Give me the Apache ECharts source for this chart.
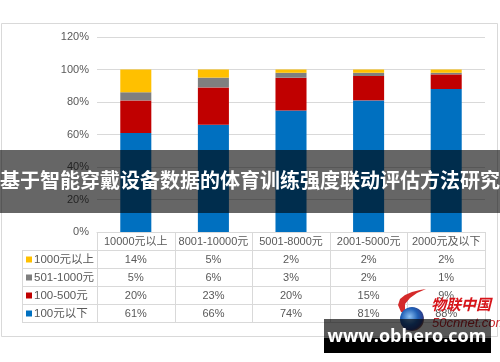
<!DOCTYPE html>
<html><head><meta charset="utf-8">
<script src="https://cdn.jsdelivr.net/npm/echarts@6/dist/echarts.min.js"></script>
<style>html,body{margin:0;padding:0;background:#fff}#c{width:500px;height:362px}</style>
</head><body><div id="c"></div>
<script>
const categories = ['10000元以上','8001-10000元','5001-8000元','2001-5000元','2000元及以下'];
const seriesNames = ['100元以下','100-500元','501-1000元','1000元以上'];
const below100 = [61,66,74,81,88];
const r100to500 = [20,23,20,15,9];
const r501to1000 = [5,6,3,2,1];
const above1000 = [14,5,2,2,2];
const seriesColors = ['#0070C0','#C00000','#7F7F7F','#FFC000'];
const titleText = '基于智能穿戴设备数据的体育训练强度联动评估方法研究';
const watermarkText = 'www.obhero.com';
const logoCn = '物联中国';
const logoEn = '50cnnet.com';

const FONT = '"Liberation Sans","Noto Sans CJK SC",sans-serif';
const TXT = '#595959';
const LINE = '#d9d9d9';
const rows = [below100, r100to500, r501to1000, above1000];
const totals = categories.map((c, i) => rows.reduce((s, r) => s + r[i], 0));

const chart = echarts.init(document.getElementById('c'), null, {renderer: 'canvas'});
chart.setOption({
  animation: false,
  backgroundColor: '#fff',
  grid: {left: 97, right: 15, top: 37, bottom: 130},
  xAxis: {type: 'category', data: categories,
    axisLabel: {show: false}, axisTick: {show: false},
    axisLine: {lineStyle: {color: LINE}}},
  yAxis: {type: 'value', min: 0, max: 120, interval: 20,
    axisLabel: {formatter: '{value}%', color: TXT, fontSize: 11, fontFamily: FONT, margin: 8},
    splitLine: {lineStyle: {color: LINE}}, axisLine: {show: false}, axisTick: {show: false}},
  series: rows.map((r, k) => ({
    name: seriesNames[k], type: 'bar', stack: 'total', barWidth: '40%',
    itemStyle: {color: seriesColors[k]},
    data: r.map((v, i) => v / totals[i] * 100)
  }))
});

const y0 = chart.convertToPixel({yAxisIndex: 0}, 0);
const cx = categories.map((c, i) => chart.convertToPixel({xAxisIndex: 0}, i));
const band = cx[1] - cx[0];
const xl = cx[0] - band / 2, xr = cx[cx.length - 1] + band / 2;
const RH = 18, legL = 22;
const g = [];
g.push({type: 'rect', shape: {x: 1.5, y: 23.5, width: 496, height: 313}, style: {fill: 'none', stroke: LINE, lineWidth: 1}, z: 0});
g.push({type: 'line', shape: {x1: xl, y1: y0 + 0.5, x2: xr, y2: y0 + 0.5}, style: {stroke: LINE}, z: 5});
for (let r = 1; r <= 5; r++) {
  const y = Math.round(y0 + r * RH) + 0.5;
  g.push({type: 'line', shape: {x1: legL, y1: y, x2: xr, y2: y}, style: {stroke: LINE}, z: 5});
}
g.push({type: 'line', shape: {x1: legL + 0.5, y1: y0 + RH, x2: legL + 0.5, y2: y0 + 5 * RH}, style: {stroke: LINE}, z: 5});
for (let i = 0; i <= categories.length; i++) {
  const x = Math.round(xl + i * band) + 0.5;
  g.push({type: 'line', shape: {x1: x, y1: y0, x2: x, y2: y0 + 5 * RH}, style: {stroke: LINE}, z: 5});
}
categories.forEach((c, i) => {
  g.push({type: 'text', x: cx[i], y: y0 + RH / 2 + 1, style: {text: c, fill: TXT, font: '11px ' + FONT, align: 'center', verticalAlign: 'middle'}, z: 6});
});
[3, 2, 1, 0].forEach((k, r) => {
  const yc = y0 + RH * (r + 1) + RH / 2 + 1;
  g.push({type: 'rect', shape: {x: 26, y: yc - 3.5, width: 6, height: 6}, style: {fill: seriesColors[k]}, z: 6});
  g.push({type: 'text', x: 34, y: yc, style: {text: seriesNames[k], fill: TXT, font: '11.5px ' + FONT, align: 'left', verticalAlign: 'middle'}, z: 6});
  rows[k].forEach((v, i) => {
    g.push({type: 'text', x: cx[i], y: yc, style: {text: v + '%', fill: TXT, font: '11px ' + FONT, align: 'center', verticalAlign: 'middle'}, z: 6});
  });
});
// logo
g.push({type: 'polygon', shape: {points: [[401,312],[398,305],[400,299],[405,295],[412,292],[420,290],[426,289],[417,293],[410,298],[405,304],[405,312]]}, style: {fill: '#d42a2a'}, z: 20});
g.push({type: 'circle', shape: {cx: 412, cy: 319, r: 12}, style: {fill: new echarts.graphic.RadialGradient(0.4, 0.4, 0.7, [{offset: 0, color: '#8cc0f2'}, {offset: 0.5, color: '#1f5fb5'}, {offset: 0.78, color: '#2b3f8c'}, {offset: 1, color: '#e07a2a'}])}, z: 20});
g.push({type: 'text', x: 431, y: 304, style: {text: logoCn, fill: '#d7141a', font: 'italic bold 15px "Noto Sans CJK SC",sans-serif', align: 'left', verticalAlign: 'middle'}, z: 20});
g.push({type: 'text', x: 432, y: 323, style: {text: logoEn, fill: '#c8262c', font: 'italic 13px "Liberation Sans",sans-serif', align: 'left', verticalAlign: 'middle'}, z: 20});
// watermark box
g.push({type: 'rect', shape: {x: 324, y: 319, width: 167, height: 19}, style: {fill: 'rgba(0,0,0,0.66)'}, z: 30});
g.push({type: 'rect', shape: {x: 324, y: 338, width: 167, height: 15}, style: {fill: '#000'}, z: 30});
g.push({type: 'text', x: 407, y: 337, style: {text: watermarkText, fill: '#fff', font: 'bold 18px "Open Sans",sans-serif', align: 'center', verticalAlign: 'middle'}, z: 31});
// title banner
g.push({type: 'rect', shape: {x: 0, y: 150, width: 500, height: 63}, style: {fill: 'rgba(0,0,0,0.6)'}, z: 40});
g.push({type: 'text', x: 250, y: 180, style: {text: titleText, fill: '#fff', font: 'bold 20px "Noto Sans CJK SC",sans-serif', align: 'center', verticalAlign: 'middle'}, z: 41});
chart.setOption({graphic: g.map(e => Object.assign({silent: true}, e))});
</script></body></html>
